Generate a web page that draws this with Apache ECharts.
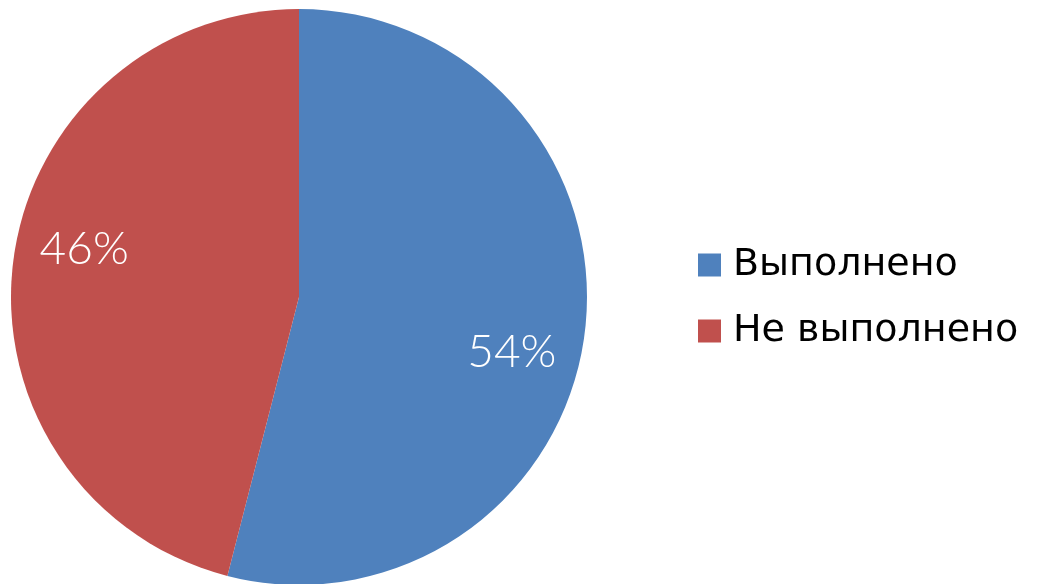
<!DOCTYPE html>
<html>
<head>
<meta charset="utf-8">
<script src="https://cdn.jsdelivr.net/npm/echarts@6/dist/echarts.min.js"></script>
<style>
  html, body { margin: 0; padding: 0; background: #fff; }
  #chart { width: 1037px; height: 584px; }
</style>
</head>
<body>
<div id="chart"></div>
<script>
// данные диаграммы
var categories = ['Выполнено', 'Не выполнено'];
var shares = [54, 46];
var colors = ['#4F81BD', '#C0504D'];
var labelShift = [[67, 37], [-69, -29]]; // сдвиг подписей как в исходнике

var pieData = categories.map(function (name, i) {
    return { name: name, value: shares[i], itemStyle: { color: colors[i] } };
});

var myChart = echarts.init(document.getElementById('chart'));
myChart.setOption({
    backgroundColor: '#fff',
    animation: false,
    legend: {
        orient: 'vertical',
        left: 693,
        top: 240,
        itemWidth: 23,
        itemHeight: 23,
        itemGap: 26,
        icon: 'rect',
        data: categories,
        textStyle: {
            fontFamily: 'DejaVu Sans',
            fontSize: 38,
            lineHeight: 40,
            color: '#000',
            padding: [0, 0, 0, 7]
        }
    },
    series: [{
        type: 'pie',
        center: [299, 297],
        radius: [0, 288],
        startAngle: 90,
        clockwise: true,
        data: pieData,
        itemStyle: { borderWidth: 0 },
        label: {
            show: true,
            position: 'inside',
            formatter: '{c}%',
            color: '#fff',
            fontFamily: 'Lato',
            fontWeight: 300,
            fontSize: 46
        },
        labelLine: { show: false },
        labelLayout: function (params) {
            var s = labelShift[params.dataIndex];
            return { dx: s[0], dy: s[1] };
        },
        emphasis: { disabled: true }
    }]
});
</script>
</body>
</html>
